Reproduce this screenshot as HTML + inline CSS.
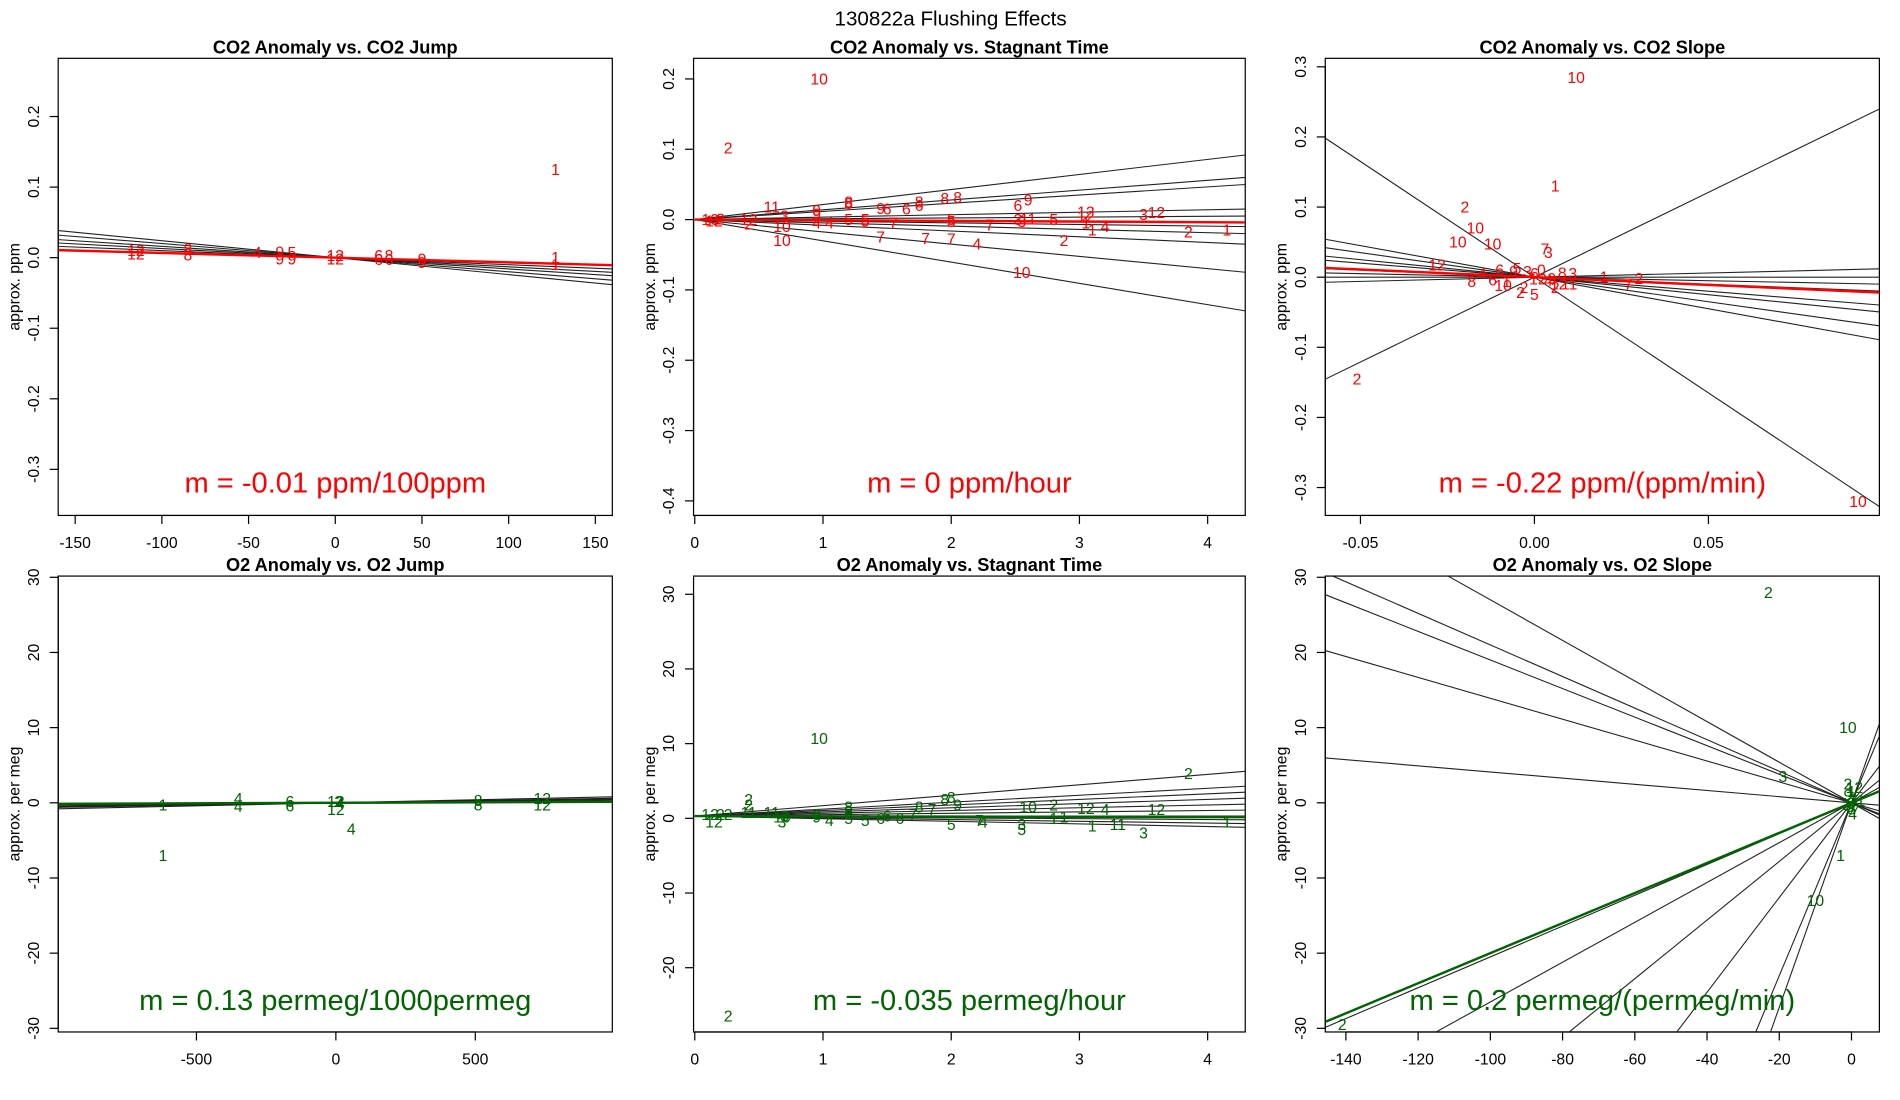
<!DOCTYPE html>
<html><head><meta charset="utf-8"><style>
html,body{margin:0;padding:0;background:#fff;overflow:hidden;width:1900px;height:1100px;}
svg{display:block;font-family:"Liberation Sans",sans-serif;}
</style></head><body>
<svg id="chart" width="1900" height="1100" viewBox="0 0 1567 907" xmlns="http://www.w3.org/2000/svg">
<text x="784" y="21" font-size="17" text-anchor="middle">130822a   Flushing Effects</text>
</svg>
<script>
// ---- Panel 1: CO2 Anomaly vs CO2 Jump ----
const p1X = [-115,-115,-85,-85,-45,-32,-32,-25,-25,0,0,25,25,31,31,50,50,127,127,127];
const p1Y = [0.01,0.005,0.012,0.004,0.007,0.008,-0.002,0.007,-0.002,0.003,-0.002,0.003,-0.003,0.003,-0.003,-0.002,-0.007,0.125,0.0,-0.01];
const p1L = ["12","12","8","8","4","9","9","5","9","12","12","6","6","8","6","9","9","1","1","1"];
const p1Slopes = [-0.00024,-0.0002,-0.00016,-0.00013,-0.0001];
const p1Fit = -0.0000667;
// ---- Panel 2: CO2 Anomaly vs Stagnant Time ----
const p2X = [0.97,0.26,0.12,0.15,0.2,0.42,0.42,0.6,0.68,0.68,0.7,0.95,0.95,0.95,1.05,1.2,1.2,1.2,1.33,1.33,1.45,1.45,1.5,1.55,1.65,1.75,1.75,1.8,1.95,2.0,2.0,2.0,2.05,2.2,2.3,2.52,2.52,2.55,2.55,2.6,2.6,2.8,2.88,3.05,3.05,3.05,3.1,3.2,3.5,3.6,3.85,4.15];
const p2Y = [0.2,0.102,0.0,-0.002,0.001,0.0,-0.006,0.018,-0.01,-0.03,0.005,0.013,0.008,-0.005,-0.005,0.025,0.023,0.0,0.0,-0.002,0.016,-0.025,0.015,-0.005,0.015,0.02,0.025,-0.027,0.03,0.0,-0.003,-0.028,0.031,-0.035,-0.008,0.02,0.0,-0.075,-0.003,0.028,0.001,0.0,-0.03,0.011,0.004,-0.005,-0.015,-0.01,0.007,0.01,-0.018,-0.015];
const p2L = ["10","2","10","12","2","12","2","11","10","10","3","9","9","4","4","8","8","5","5","5","9","7","6","7","6","6","8","7","8","5","5","7","8","4","7","6","3","10","3","9","11","5","2","12","12","1","1","4","3","12","2","1"];
const p2Ends = [0.092,0.06,0.05,0.015,0.005,-0.01,-0.02,-0.035,-0.075,-0.13];
const p2Fit = -0.004;
// ---- Panel 3: CO2 Anomaly vs CO2 Slope ----
const p3X = [0.012,0.006,-0.02,-0.017,-0.022,-0.012,-0.051,0.093,-0.028,0.02,0.03,0.027,0.003,0.004,-0.01,-0.005,-0.002,0.0,0.002,0.005,0.008,-0.008,-0.003,-0.004,0.001,0.007,0.01,-0.015,-0.018,-0.009,0.0,0.004,-0.006,-0.012,0.011,0.006];
const p3Y = [0.285,0.13,0.1,0.07,0.05,0.047,-0.145,-0.32,0.017,0.0,-0.002,-0.01,0.04,0.035,0.01,0.012,0.008,0.005,0.01,-0.002,0.006,-0.006,-0.015,-0.022,-0.003,-0.01,-0.01,0.005,-0.006,-0.012,-0.025,-0.005,0.008,-0.004,0.005,-0.015];
const p3L = ["10","1","2","10","10","10","2","10","12","1","2","7","7","3","6","5","3","6","0","9","8","1","2","2","12","12","11","4","8","10","5","4","9","6","3","2"];
const p3Slopes = [2.42,0.12,0.0,-0.1,-0.2,-0.4,-0.5,-0.7,-0.9,-3.3];
const p3Fit = -0.22;
// ---- Panel 4: O2 Anomaly vs O2 Jump ----
const p4X = [-620,-620,-350,-350,-165,-165,0,0,10,15,55,510,510,740,740];
const p4Y = [-0.3,-7,0.6,-0.5,0.2,-0.4,0.2,-0.9,0.2,0,-3.5,0.3,-0.3,0.6,-0.3];
const p4L = ["1","1","4","4","6","6","12","12","2","4","4","8","8","12","12"];
const p4Slopes = [0.0008,0.0006,0.0004,0.00025,0.0005];
const p4Fit = 0.00013;
// ---- Panel 5: O2 Anomaly vs Stagnant Time ----
const p5X = [0.97,0.26,0.12,0.15,0.2,0.42,0.42,0.42,0.6,0.68,0.68,0.7,0.95,0.95,1.05,1.2,1.2,1.2,1.33,1.45,1.5,1.6,1.7,1.75,1.85,1.95,2.0,2.0,2.05,2.22,2.25,2.55,2.55,2.6,2.8,2.8,2.88,3.05,3.1,3.2,3.3,3.5,3.6,3.85,4.15,0.26];
const p5Y = [10.7,-26.5,0.5,-0.5,0.5,2.5,1.8,0.8,0.8,0.2,-0.5,0.3,0.5,0.2,-0.3,1.5,1.0,0.0,-0.3,0.0,0.3,0.0,0.5,1.5,1.2,2.5,2.8,-0.8,1.8,-0.3,-0.5,-1.5,-0.8,1.5,1.8,0.0,0.2,1.3,-1.0,1.2,-0.8,-2.0,1.2,6.0,-0.5,0.5];
const p5L = ["10","2","12","12","2","2","2","11","11","10","3","3","9","9","4","8","8","5","5","6","6","6","7","8","7","8","8","5","9","7","4","5","3","10","2","1","1","12","1","4","11","3","12","2","1","2"];
const p5Ends = [6.0,4.0,3.2,2.4,1.6,0.8,0.0,-0.5,-1.0,-1.5];
const p5Fit = -0.035;
// ---- Panel 6: O2 Anomaly vs O2 Slope ----
const p6X = [-23,-19,-1,-1,-3,-10,-141,0,0.5,-0.5,1,-1,0.3,0.8,-0.3,0,1.5,-1.5];
const p6Y = [28,3.5,10,2.5,-7,-13,-29.5,1.5,0.5,-0.5,-1,1,-1.5,2,0,-0.8,0.3,-0.2];
const p6L = ["2","3","10","2","1","10","2","1","3","5","7","9","4","12","6","8","11","2"];
const p6Slopes = [-0.27,-0.21,-0.19,-0.139,-0.041,0.205,0.265,0.39,0.63,1.15,1.36];
const p6Fit = 0.2;

const NS="http://www.w3.org/2000/svg";
const svg=document.getElementById('chart');
function mk(tag,attrs,parent){const e=document.createElementNS(NS,tag);for(const k in attrs)e.setAttribute(k,attrs[k]);(parent||svg).appendChild(e);return e;}
// Liang-Barsky clip of a segment to a rect
function clipSeg(x1,y1,x2,y2,L,T,R,B){
  let t0=0,t1=1;const dx=x2-x1,dy=y2-y1;
  const p=[-dx,dx,-dy,dy],q=[x1-L,R-x1,y1-T,B-y1];
  for(let i=0;i<4;i++){
    if(p[i]===0){if(q[i]<0)return null;}
    else{const r=q[i]/p[i];if(p[i]<0){if(r>t1)return null;if(r>t0)t0=r;}else{if(r<t0)return null;if(r<t1)t1=r;}}
  }
  return [x1+t0*dx,y1+t0*dy,x1+t1*dx,y1+t1*dy];
}

function panel(o){
  const g=mk('g',{});
  
  
  const sx=v=>o.px0+(v-o.x0)*(o.px1-o.px0)/(o.x1-o.x0);
  const sy=v=>o.py0+(v-o.y0)*(o.py1-o.py0)/(o.y1-o.y0);
  const cid='clip'+o.name;
  const cp=mk('clipPath',{id:cid},g);
  mk('rect',{x:o.L,y:o.T,width:o.R-o.L,height:o.B-o.T},cp);
  const t=mk('text',{x:(o.L+o.R)/2,y:o.T-4,'font-size':15,'font-weight':'bold','text-anchor':'middle'},g);
  t.textContent=o.title;
  
  
  const box=mk('rect',{x:o.L,y:o.T,width:o.R-o.L,height:o.B-o.T,fill:'none',stroke:'#000','stroke-width':1},g);
  
  
  o.xt.forEach((v,i)=>{const x=sx(v);
    mk('line',{x1:x,x2:x,y1:o.B,y2:o.B+7,stroke:'#000'},g);
    const tx=mk('text',{x:x,y:o.B+27,'font-size':13,'text-anchor':'middle'},g);tx.textContent=o.xtl[i];
    
    
  });
  mk('line',{x1:sx(o.xt[0]),x2:sx(o.xt[o.xt.length-1]),y1:o.B,y2:o.B,stroke:'#000'},g);
  o.yt.forEach((v,i)=>{const y=sy(v);
    mk('line',{x1:o.L-7,x2:o.L,y1:y,y2:y,stroke:'#000'},g);
    const ty=mk('text',{x:0,y:0,'font-size':13,'text-anchor':'middle',transform:`translate(${o.L-16},${y}) rotate(-90)`},g);ty.textContent=o.ytl[i];
    
    
  });
  mk('line',{x1:o.L,x2:o.L,y1:sy(o.yt[0]),y2:sy(o.yt[o.yt.length-1]),stroke:'#000'},g);
  const yl=mk('text',{x:0,y:0,'font-size':13,'text-anchor':'middle',transform:`translate(${o.L-32},${(o.T+o.B)/2}) rotate(-90)`},g);
  yl.textContent=o.ylab;
  
  
  const inner=mk('g',{'clip-path':`url(#${cid})`},g);
  const seg=s=>clipSeg(sx(o.lx0),sy(o.lyc+s*(o.lx0-o.lxc)),sx(o.lx1),sy(o.lyc+s*(o.lx1-o.lxc)),o.L,o.T,o.R,o.B);
  o.lines.forEach(s=>{
    const c=seg(s); if(!c) return;
    const l=mk('line',{x1:c[0],y1:c[1],x2:c[2],y2:c[3],stroke:'#222','stroke-width':0.9},inner);
    
    
  });
  o.X.forEach((v,i)=>{
    const tp=mk('text',{x:sx(v),y:sy(o.Y[i])+4.5,'font-size':13,'text-anchor':'middle',fill:o.col},inner);
    tp.textContent=o.Lb[i];
    
    
  });
  const c=seg(o.fit);
  if(c){
    const fl=mk('line',{x1:c[0],y1:c[1],x2:c[2],y2:c[3],stroke:o.col,'stroke-width':2},inner);
    
    
  }
  const an=mk('text',{x:(o.L+o.R)/2,y:o.annY,'font-size':24,'text-anchor':'middle',fill:o.col},g);
  an.textContent=o.ann;
  
  
}
const C1={L:48,R:505},C2={L:572,R:1027},C3={L:1093,R:1550};
const RT={T:48,B:425},RB={T:475,B:851};
panel({name:'co2-vs-jump',title:'CO2 Anomaly vs. CO2 Jump',...C1,...RT,x0:-150,x1:150,px0:62,px1:491,y0:0.2,y1:-0.3,py0:96,py1:387,
 xt:[-150,-100,-50,0,50,100,150],xtl:['-150','-100','-50','0','50','100','150'],yt:[0.2,0.1,0,-0.1,-0.2,-0.3],ytl:['0.2','0.1','0.0','-0.1','-0.2','-0.3'],
 ylab:'approx. ppm',X:p1X,Y:p1Y,Lb:p1L,lines:p1Slopes,fit:p1Fit,lx0:-160,lx1:165,lxc:0,lyc:0,col:'#ff0000',ann:'m = -0.01 ppm/100ppm',annY:406});
panel({name:'co2-vs-stagnant',title:'CO2 Anomaly vs. Stagnant Time',...C2,...RT,x0:0,x1:4,px0:573,px1:996,y0:0.2,y1:-0.4,py0:65,py1:413,
 xt:[0,1,2,3,4],xtl:['0','1','2','3','4'],yt:[0.2,0.1,0,-0.1,-0.2,-0.3,-0.4],ytl:['0.2','0.1','0.0','-0.1','-0.2','-0.3','-0.4'],
 ylab:'approx. ppm',X:p2X,Y:p2Y,Lb:p2L,lines:p2Ends.map(e=>e/4.3),fit:p2Fit/4.3,lx0:0,lx1:4.4,lxc:0,lyc:0,col:'#ff0000',ann:'m = 0 ppm/hour',annY:406});
panel({name:'co2-vs-slope',title:'CO2 Anomaly vs. CO2 Slope',...C3,...RT,x0:-0.05,x1:0.05,px0:1122,px1:1409,y0:0.3,y1:-0.3,py0:55,py1:402,
 xt:[-0.05,0,0.05],xtl:['-0.05','0.00','0.05'],yt:[0.3,0.2,0.1,0,-0.1,-0.2,-0.3],ytl:['0.3','0.2','0.1','0.0','-0.1','-0.2','-0.3'],
 ylab:'approx. ppm',X:p3X,Y:p3Y,Lb:p3L,lines:p3Slopes,fit:p3Fit,lx0:-0.07,lx1:0.11,lxc:0,lyc:0,col:'#ff0000',ann:'m = -0.22 ppm/(ppm/min)',annY:406});
panel({name:'o2-vs-jump',title:'O2 Anomaly vs. O2 Jump',...C1,...RB,x0:-500,x1:500,px0:162,px1:392,y0:30,y1:-30,py0:476,py1:848,
 xt:[-500,0,500],xtl:['-500','0','500'],yt:[30,20,10,0,-10,-20,-30],ytl:['30','20','10','0','-10','-20','-30'],
 ylab:'approx. per meg',X:p4X,Y:p4Y,Lb:p4L,lines:p4Slopes,fit:p4Fit,lx0:-1000,lx1:1000,lxc:0,lyc:0,col:'#006400',ann:'m = 0.13 permeg/1000permeg',annY:833});
panel({name:'o2-vs-stagnant',title:'O2 Anomaly vs. Stagnant Time',...C2,...RB,x0:0,x1:4,px0:573,px1:996,y0:30,y1:-20,py0:490,py1:798,
 xt:[0,1,2,3,4],xtl:['0','1','2','3','4'],yt:[30,20,10,0,-10,-20],ytl:['30','20','10','0','-10','-20'],
 ylab:'approx. per meg',X:p5X,Y:p5Y,Lb:p5L,lines:p5Ends.map(e=>e/4.3),fit:p5Fit,lx0:0,lx1:4.4,lxc:0,lyc:0.3,col:'#006400',ann:'m = -0.035 permeg/hour',annY:833});
panel({name:'o2-vs-slope',title:'O2 Anomaly vs. O2 Slope',...C3,...RB,x0:-140,x1:0,px0:1110,px1:1527,y0:30,y1:-30,py0:476,py1:848,
 xt:[-140,-120,-100,-80,-60,-40,-20,0],xtl:['-140','-120','-100','-80','-60','-40','-20','0'],yt:[30,20,10,0,-10,-20,-30],ytl:['30','20','10','0','-10','-20','-30'],
 ylab:'approx. per meg',X:p6X,Y:p6Y,Lb:p6L,lines:p6Slopes,fit:p6Fit,lx0:-150,lx1:10,lxc:0,lyc:0,col:'#006400',ann:'m = 0.2 permeg/(permeg/min)',annY:833});
</script>
</body></html>
